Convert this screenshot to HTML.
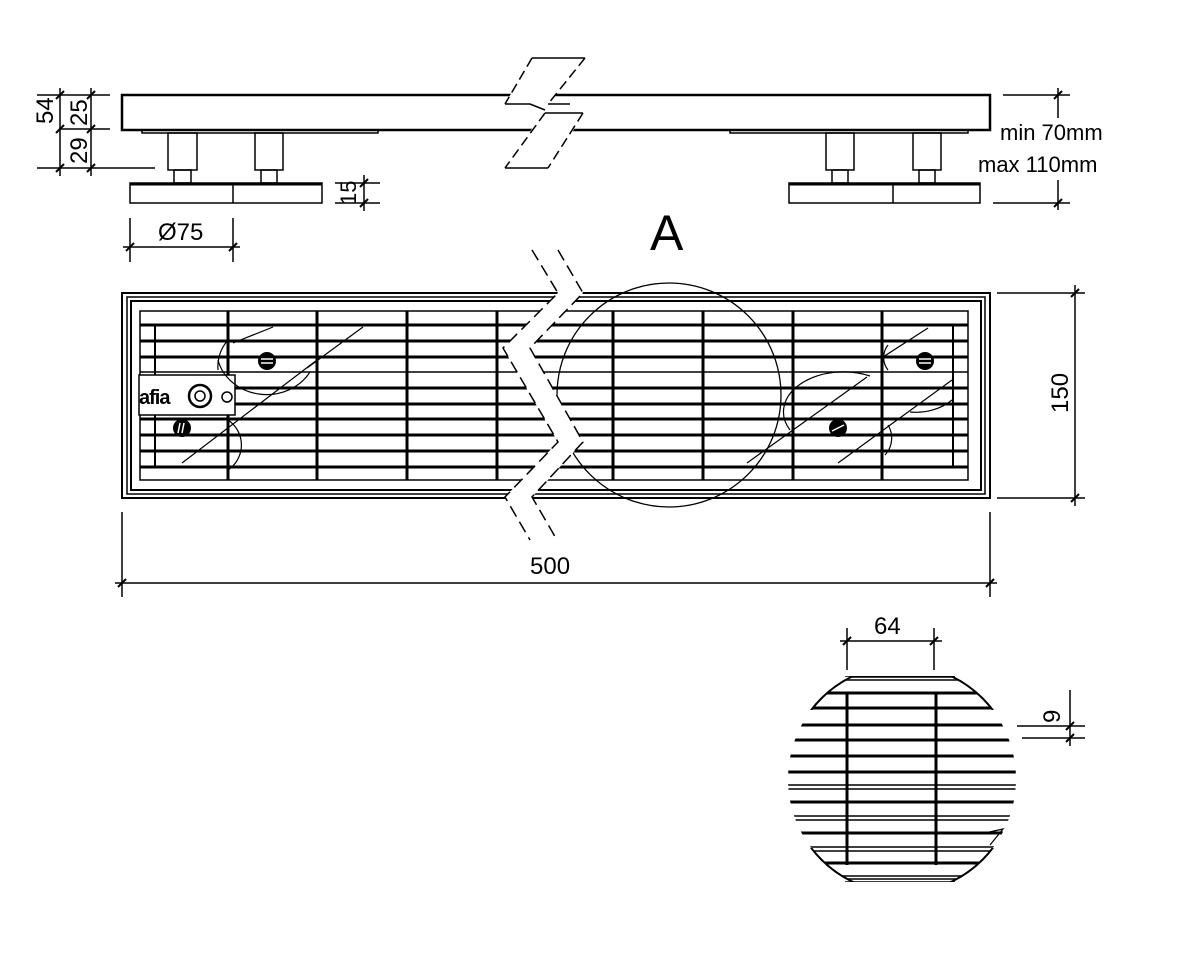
<!DOCTYPE html>
<html><head><meta charset="utf-8"><style>
html,body{margin:0;padding:0;background:#fff;width:1200px;height:967px;overflow:hidden}
svg text{font-family:"Liberation Sans",sans-serif;fill:#000}
</style></head><body>
<svg width="1200" height="967" viewBox="0 0 1200 967" xmlns="http://www.w3.org/2000/svg">
<defs>
<clipPath id="dc"><circle cx="902" cy="779" r="114"/></clipPath>
<clipPath id="dc2"><rect x="780" y="676" width="250" height="206"/></clipPath>
<clipPath id="dtop"><rect x="780" y="676" width="250" height="34"/><rect x="780" y="848" width="250" height="34"/></clipPath>
</defs>
<g stroke="#000" fill="none" stroke-width="1.5">
<!-- SIDE VIEW -->
<path d="M122,95 H990 V130 H122 Z" stroke-width="2.5"/>
<rect x="142" y="130" width="236" height="3"/>
<rect x="730" y="130" width="238" height="3"/>
<rect x="168" y="133" width="29" height="37"/><rect x="174" y="170" width="17" height="13"/>
<rect x="255" y="133" width="28" height="37"/><rect x="261" y="170" width="16" height="13"/>
<rect x="826" y="133" width="28" height="37"/><rect x="832" y="170" width="16" height="13"/>
<rect x="913" y="133" width="28" height="37"/><rect x="919" y="170" width="16" height="13"/>
<rect x="130" y="183" width="192" height="20"/><line x1="130" y1="184" x2="322" y2="184" stroke-width="3"/><line x1="233" y1="183" x2="233" y2="203"/>
<rect x="789" y="183" width="191" height="20"/><line x1="789" y1="184" x2="980" y2="184" stroke-width="3"/><line x1="893" y1="183" x2="893" y2="203"/>
<!-- break side -->
<polygon points="532,58 585,58 545,108 585,113 548,168 505,168 545,110 505,104" fill="#fff" stroke="none"/>
<g stroke-dasharray="10,5">
<path d="M532,58 L505,104"/><path d="M585,58 L548,104"/>
<path d="M583,113 L548,168"/><path d="M545,113 L505,168"/>
</g>
<path d="M532,58 H585"/><path d="M505,104 L530,104 L545,110 M548,104 L570,104"/>
<path d="M505,168 H548"/><path d="M545,113 L583,113"/>
<!-- dims left -->
<line x1="37" y1="95" x2="110" y2="95"/><line x1="60" y1="129" x2="110" y2="129"/><line x1="37" y1="168" x2="155" y2="168"/>
<line x1="60" y1="88" x2="60" y2="176"/><line x1="91" y1="88" x2="91" y2="176"/>
<line x1="335" y1="183" x2="380" y2="183"/><line x1="335" y1="203" x2="380" y2="203"/><line x1="364" y1="175" x2="364" y2="211"/>
<line x1="130" y1="218" x2="130" y2="262"/><line x1="233" y1="218" x2="233" y2="262"/><line x1="123" y1="247" x2="240" y2="247"/>
<!-- right dim -->
<line x1="1003" y1="95" x2="1070" y2="95"/><line x1="993" y1="203" x2="1070" y2="203"/>
<line x1="1058" y1="88" x2="1058" y2="118"/><line x1="1058" y1="180" x2="1058" y2="210"/>
<!-- PLAN VIEW -->
<rect x="122" y="293" width="868" height="205" stroke-width="2"/>
<rect x="127" y="297" width="858" height="197"/>
<rect x="131" y="301" width="850" height="189" stroke-width="2"/>
<rect x="140" y="311" width="828" height="169"/>
<g stroke-width="3">
<line x1="140" y1="325" x2="968" y2="325"/><line x1="140" y1="341" x2="968" y2="341"/><line x1="140" y1="357" x2="968" y2="357"/>
<line x1="140" y1="388" x2="968" y2="388"/><line x1="140" y1="404" x2="968" y2="404"/><line x1="140" y1="419" x2="968" y2="419"/>
<line x1="140" y1="435" x2="968" y2="435"/><line x1="140" y1="451" x2="968" y2="451"/><line x1="140" y1="467" x2="968" y2="467"/>
<line x1="228" y1="311" x2="228" y2="480"/><line x1="317" y1="311" x2="317" y2="480"/><line x1="407" y1="311" x2="407" y2="480"/><line x1="497" y1="311" x2="497" y2="480"/>
<line x1="613" y1="311" x2="613" y2="480"/><line x1="703" y1="311" x2="703" y2="480"/><line x1="793" y1="311" x2="793" y2="480"/><line x1="882" y1="311" x2="882" y2="480"/>
</g>
<line x1="140" y1="372" x2="968" y2="372"/>
<line x1="155" y1="325" x2="155" y2="467" stroke-width="2"/><line x1="953" y1="325" x2="953" y2="467" stroke-width="2"/>
<!-- logo -->
<rect x="139" y="375" width="96" height="40" fill="#fff"/>
<circle cx="200" cy="396" r="11" stroke-width="2.5" fill="#fff"/><circle cx="200" cy="396" r="5"/><circle cx="227" cy="397" r="5"/>
<!-- hatching/arcs -->
<g stroke-width="1.2">
<path d="M182,463 L317,360"/><path d="M233,343 L273,327"/><path d="M307,368 L363,327"/>
<path d="M218,360 A50,45 0 0 0 310,372"/><path d="M228,340 A40,40 0 0 0 218,370"/>
<path d="M228,420 A30,30 0 0 1 228,470"/>
<path d="M747,463 L867,377"/><path d="M838,463 L952,380"/><path d="M883,357 L928,328"/>
<path d="M790,430 A60,40 0 0 1 870,376"/><path d="M888,345 A20,20 0 0 0 888,370"/><path d="M910,412 A50,40 0 0 0 952,400"/><path d="M888,425 A25,25 0 0 1 885,455"/>
</g>
<!-- screws -->
<g fill="#000" stroke="none">
<circle cx="267" cy="361" r="9"/><circle cx="182" cy="428" r="9"/><circle cx="925" cy="361" r="9"/><circle cx="838" cy="428" r="9"/>
</g>
<g stroke="#fff" stroke-width="1.5"><line x1="261" y1="359" x2="273" y2="359"/><line x1="261" y1="363" x2="273" y2="363"/>
<line x1="919" y1="359" x2="931" y2="359"/><line x1="919" y1="363" x2="931" y2="363"/>
<line x1="180" y1="423" x2="178" y2="433"/><line x1="184" y1="423" x2="182" y2="433"/><line x1="832" y1="431" x2="844" y2="425"/></g>
<!-- big circle -->
<circle cx="669" cy="395" r="112" stroke-width="1.3"/>
<!-- plan break -->
<polygon points="532,250 558,250 583,293 530,348 583,442 532,497 557,540 530,540 505,497 558,442 503,348 558,293" fill="#fff" stroke="none"/>
<g stroke-dasharray="12,6" stroke-width="1.5">
<path d="M532,250 L558,293 L503,348 L558,442 L505,497 L530,540"/>
<path d="M558,250 L583,293 L530,348 L583,442 L532,497 L557,540"/>
</g>
<!-- dims plan -->
<line x1="997" y1="293" x2="1085" y2="293"/><line x1="997" y1="498" x2="1085" y2="498"/><line x1="1075" y1="285" x2="1075" y2="506"/>
<line x1="122" y1="512" x2="122" y2="597"/><line x1="990" y1="512" x2="990" y2="597"/><line x1="115" y1="583" x2="997" y2="583"/>
<!-- DETAIL -->
<g clip-path="url(#dc2)"><g clip-path="url(#dc)">
<g stroke-width="3">
<line x1="780" y1="693" x2="1030" y2="693"/><line x1="780" y1="708" x2="1030" y2="708"/><line x1="780" y1="725" x2="1030" y2="725"/>
<line x1="780" y1="740" x2="1030" y2="740"/><line x1="780" y1="756" x2="1030" y2="756"/><line x1="780" y1="772" x2="1030" y2="772"/>
<line x1="780" y1="802" x2="1030" y2="802"/><line x1="780" y1="833" x2="1030" y2="833"/><line x1="780" y1="863" x2="1030" y2="863"/>
<line x1="847" y1="693" x2="847" y2="865"/><line x1="936" y1="693" x2="936" y2="865"/>
</g>
<rect x="780" y="785" width="250" height="4"/><rect x="780" y="816" width="250" height="4"/><rect x="780" y="847" width="250" height="4"/>
<rect x="780" y="677" width="250" height="3"/><rect x="780" y="876" width="250" height="3"/>
</g>
<path d="M845,676 H955"/><path d="M845,882 H955"/>
</g>
<circle cx="902" cy="779" r="114" stroke-width="2" clip-path="url(#dtop)"/>
<path d="M985,833 L1003,829 L990,845" stroke-width="1.2"/>
<line x1="847" y1="628" x2="847" y2="670"/><line x1="934" y1="628" x2="934" y2="670"/><line x1="840" y1="641" x2="942" y2="641"/>
<line x1="1017" y1="726" x2="1085" y2="726"/><line x1="1022" y1="738" x2="1085" y2="738"/><line x1="1070" y1="690" x2="1070" y2="746"/>
</g>
<g stroke="#000" stroke-width="2">
<line x1="56" y1="99" x2="64" y2="91"/><line x1="56" y1="133" x2="64" y2="125"/><line x1="56" y1="172" x2="64" y2="164"/>
<line x1="87" y1="99" x2="95" y2="91"/><line x1="87" y1="133" x2="95" y2="125"/><line x1="87" y1="172" x2="95" y2="164"/>
<line x1="360" y1="187" x2="368" y2="179"/><line x1="360" y1="207" x2="368" y2="199"/>
<line x1="126" y1="251" x2="134" y2="243"/><line x1="229" y1="251" x2="237" y2="243"/>
<line x1="1054" y1="99" x2="1062" y2="91"/><line x1="1054" y1="207" x2="1062" y2="199"/>
<line x1="1071" y1="297" x2="1079" y2="289"/><line x1="1071" y1="502" x2="1079" y2="494"/>
<line x1="118" y1="587" x2="126" y2="579"/><line x1="986" y1="587" x2="994" y2="579"/>
<line x1="843" y1="645" x2="851" y2="637"/><line x1="930" y1="645" x2="938" y2="637"/>
<line x1="1066" y1="730" x2="1074" y2="722"/><line x1="1066" y1="742" x2="1074" y2="734"/>
</g>
<text x="139" y="404" font-size="20" font-weight="bold" letter-spacing="-1">afia</text>
<text x="0" y="0" font-size="24" transform="translate(53,124) rotate(-90)">54</text>
<text x="0" y="0" font-size="24" transform="translate(87,126) rotate(-90)">25</text>
<text x="0" y="0" font-size="24" transform="translate(87,164) rotate(-90)">29</text>
<text x="0" y="0" font-size="22" transform="translate(356,205) rotate(-90)">15</text>
<text x="158" y="240" font-size="24">Ø75</text>
<text x="1000" y="140" font-size="22">min 70mm</text>
<text x="978" y="172" font-size="22">max 110mm</text>
<text x="650" y="250" font-size="50">A</text>
<text x="0" y="0" font-size="24" transform="translate(1068,413) rotate(-90)">150</text>
<text x="530" y="574" font-size="24">500</text>
<text x="874" y="634" font-size="24">64</text>
<text x="0" y="0" font-size="24" transform="translate(1060,723) rotate(-90)">9</text>
</svg>
</body></html>
